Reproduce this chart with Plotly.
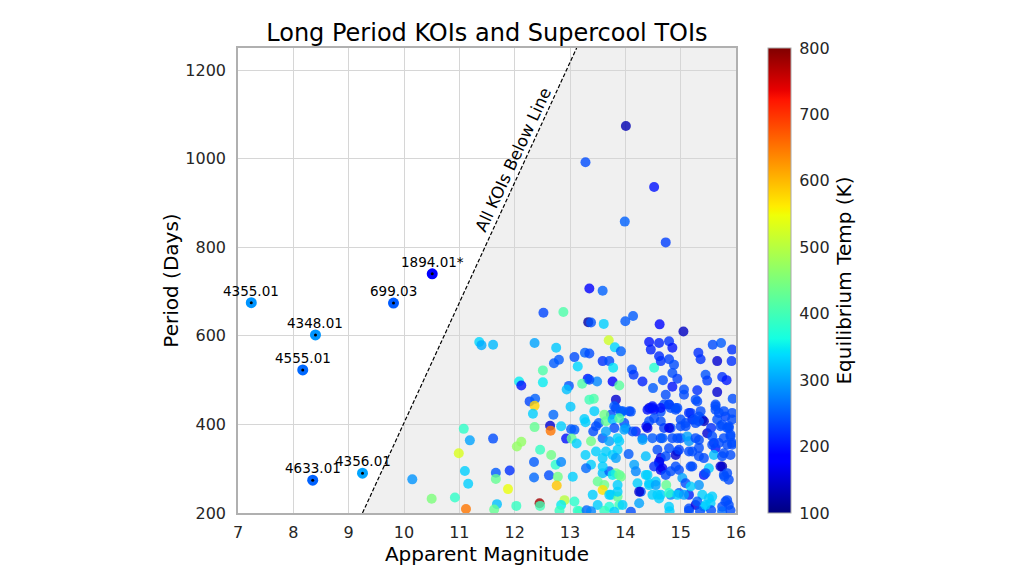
import numpy as np
import plotly.graph_objects as go

# ---------------- data ----------------
# Supercool TOIs: apparent magnitude, period (days), equilibrium temp (K)
toi_mag = [14.01, 13.28, 14.52, 13.99, 14.73, 13.35, 13.59,
           12.52, 12.88, 13.33, 13.38, 13.61, 14.00, 14.14, 14.62, 15.05, 11.36, 11.40, 11.61, 12.36,
           13.70, 13.81, 13.92, 12.75, 12.71, 12.80, 13.08, 13.27, 13.59, 13.71, 13.78, 12.51, 12.51,
           12.08, 12.12, 12.98, 12.94, 13.14, 13.32, 13.49, 13.22, 13.77, 13.89, 14.12, 14.15, 14.31,
           14.52, 14.85, 14.94, 14.50, 14.68, 14.85, 15.06, 15.30, 15.45, 15.48, 15.66, 15.75, 15.83,
           15.93, 15.92, 15.94, 15.58, 15.73, 15.32, 15.36, 15.66, 14.43, 14.61, 14.79, 14.85, 14.46,
           14.61, 14.64, 14.79, 14.88, 13.35, 13.35,
           12.27, 12.37, 12.36, 12.33, 12.70, 12.64, 12.65, 12.84, 12.36, 13.01, 13.02, 13.08, 12.93,
           13.03, 13.12, 13.28, 13.26, 13.43, 13.35, 13.83, 13.80, 13.92, 14.10, 13.74, 13.98, 14.38,
           14.43, 14.49, 14.64, 14.79, 14.91, 14.82, 15.00, 15.18, 15.21, 15.33, 15.39, 15.48, 15.63,
           15.69, 15.81, 15.87, 15.75, 15.90, 15.79, 14.73, 14.70, 15.27, 15.63, 13.42, 13.52,
           13.44, 13.62, 13.65, 13.83, 13.92, 14.07, 14.40, 14.52, 14.82, 14.94, 15.15, 15.36, 15.63,
           15.78, 15.93, 13.47, 13.77, 13.80, 14.01, 14.19, 14.43, 14.64, 14.70, 14.79, 15.00, 15.09,
           15.27, 15.42, 15.55, 15.66, 15.75, 15.87, 15.93, 13.38, 13.59, 13.71, 13.89, 14.13, 14.31,
           14.49, 14.64, 14.85, 15.00, 15.15, 15.33, 15.60, 15.63, 15.78, 15.93, 13.47, 13.65, 13.77,
           13.86, 14.06, 14.37, 14.58, 14.64, 14.79, 14.94, 14.91, 15.15, 15.33, 15.42, 15.60, 15.78,
           15.90, 13.38, 13.59, 13.71, 13.50, 13.62, 13.59, 13.83, 13.92, 13.86, 14.16, 14.19, 14.40,
           14.61, 14.67, 14.82, 14.97, 15.21, 15.42, 15.51, 15.78, 15.87, 13.41, 13.74, 13.86, 14.22,
           14.28, 14.43, 14.55, 14.74, 14.64, 14.82, 14.97, 15.15, 15.33, 15.57, 15.81, 13.50, 13.71,
           13.89, 14.25, 14.61, 14.79, 15.15, 15.27, 15.42, 15.54, 15.75, 15.87,
           11.08, 11.19, 11.61, 10.99, 11.10, 11.16, 10.92, 11.12, 11.66, 11.66, 11.91, 11.88, 12.04,
           12.12, 11.68, 11.63, 12.03, 12.46, 12.66, 12.35, 12.35, 12.62, 12.74, 12.78, 12.76, 12.84,
           12.90, 12.45, 12.46, 13.08, 12.84, 13.05, 13.28, 13.29, 13.17, 10.15, 10.50, 13.14, 12.81,
           13.30, 13.38, 13.62, 13.80, 14.10, 14.80, 15.15, 15.35, 15.55, 15.75, 15.90,
           14.49, 14.64, 14.79, 14.91, 15.06, 15.30, 15.24, 13.95, 13.89, 14.40, 14.52, 15.09, 15.33,
           15.72, 15.84, 13.65, 13.98, 14.31, 14.67, 14.94, 15.12, 15.27, 15.57, 15.69, 15.84, 15.90,
           13.86, 13.59, 13.83, 14.73, 14.61, 14.97, 15.21, 15.33, 15.57, 15.75, 15.93, 13.59, 13.77,
           13.89, 14.52, 14.64, 14.73, 14.91, 15.18, 15.45, 15.72, 15.84, 14.37, 14.43, 14.55, 15.03,
           15.09, 15.18, 13.71, 13.86, 14.25, 14.49, 14.58, 14.79, 14.94, 15.06, 15.39, 15.51, 15.30,
           15.45, 15.84, 13.95]
toi_period = [1074, 992, 936, 858, 811, 707, 702,
              652, 654, 631, 630, 627, 633, 645, 626, 610, 586, 579, 580, 584,
              590, 574, 565, 573, 538, 546, 552, 562, 543, 543, 528, 522, 495,
              497, 488, 487, 479, 531, 503, 497, 492, 497, 488, 524, 512, 497,
              528, 516, 503, 482, 500, 485, 479, 477, 512, 499, 473, 507, 500,
              569, 543, 458, 580, 584, 562, 547, 543, 586, 584, 588, 573, 569,
              554, 543, 547, 535, 560, 501,
              452, 458, 442, 424, 422, 397, 386, 396, 394, 440, 389, 388, 368,
              368, 357, 405, 412, 458, 456, 456, 441, 426, 429, 422, 403, 396,
              437, 437, 429, 445, 437, 392, 396, 426, 411, 418, 411, 380, 441,
              426, 418, 396, 305, 373, 282, 467, 445, 456, 445, 384, 403,
              430, 422, 407, 437, 430, 430, 433, 433, 437, 437, 426, 430, 433,
              430, 426, 396, 411, 392, 392, 384, 407, 407, 392, 392, 411, 403,
              403, 407, 392, 411, 399, 392, 411, 362, 369, 362, 362, 384, 369,
              369, 369, 369, 369, 362, 365, 358, 346, 369, 358, 339, 339, 331,
              343, 333, 328, 343, 324, 346, 339, 331, 339, 328, 324, 331, 335,
              331, 309, 290, 294, 271, 263, 252, 290, 282, 263, 309, 294, 286,
              312, 301, 294, 297, 305, 286, 301, 286, 275, 241, 241, 237, 267,
              248, 263, 271, 263, 241, 241, 245, 241, 263, 237, 226, 218, 214,
              218, 222, 233, 214, 210, 218, 214, 222, 214, 218,
              390, 364, 368, 335, 295, 266, 235, 209, 291, 277, 296, 254, 350,
              361, 220, 208, 216, 343, 331, 315, 280, 285, 309, 282, 262, 315,
              229, 222, 216, 226, 218, 282, 331, 301, 204, 276, 232, 205, 205,
              206, 204, 205, 203, 203, 204, 205, 204, 206, 204, 206,
              441, 437, 445, 433, 467, 452, 411, 430, 414, 392, 414, 396, 407,
              396, 392, 384, 388, 365, 369, 369, 373, 369, 373, 358, 354, 377,
              369, 324, 324, 328, 316, 343, 339, 347, 354, 328, 354, 305, 286,
              286, 305, 297, 286, 305, 305, 290, 305, 290, 286, 267, 263, 279,
              267, 260, 241, 248, 248, 241, 241, 245, 241, 241, 241, 233, 226,
              218, 229, 218]
toi_temp = [130, 240, 200, 255, 230, 185, 255,
            235, 410, 120, 245, 330, 250, 250, 190, 140, 335, 305, 315, 300,
            520, 335, 255, 325, 250, 250, 240, 255, 220, 240, 345, 410, 350,
            350, 200, 245, 320, 335, 200, 280, 410, 180, 420, 240, 225, 210,
            375, 240, 230, 250, 240, 200, 240, 220, 245, 230, 150, 220, 205,
            220, 220, 240, 240, 250, 220, 220, 150, 200, 210, 220, 200, 210,
            215, 220, 230, 240, 240, 240,
            235, 255, 580, 330, 260, 150, 650, 330, 430, 325, 250, 250, 200,
            430, 330, 330, 330, 410, 400, 150, 250, 330, 245, 240, 240, 200,
            150, 170, 240, 240, 240, 240, 240, 230, 170, 240, 240, 150, 240,
            240, 230, 240, 130, 240, 250, 240, 240, 240, 240, 240, 250,
            330, 440, 430, 240, 250, 240, 200, 200, 240, 240, 220, 240, 240,
            240, 240, 240, 320, 240, 280, 210, 240, 240, 230, 160, 240, 240,
            240, 140, 220, 240, 240, 240, 240, 440, 250, 300, 330, 240, 250,
            250, 240, 240, 240, 290, 240, 200, 200, 240, 240, 330, 330, 330,
            330, 250, 320, 240, 160, 240, 240, 150, 240, 240, 240, 320, 240,
            240, 330, 320, 250, 430, 440, 570, 440, 440, 330, 300, 280, 330,
            240, 170, 240, 240, 240, 200, 330, 240, 240, 330, 330, 430, 330,
            240, 330, 330, 430, 330, 280, 250, 210, 290, 330, 240, 330, 370,
            400, 300, 330, 330, 240, 160, 330, 330, 240, 240,
            385, 300, 240, 530, 330, 330, 385, 650, 250, 430, 220, 545, 470,
            470, 320, 430, 390, 390, 440, 250, 260, 240, 380, 440, 590, 280,
            500, 780, 400, 380, 350, 330, 330, 260, 430, 290, 450, 380, 390,
            260, 280, 390, 330, 240, 330, 240, 240, 240, 260, 240,
            200, 200, 230, 240, 240, 240, 240, 250, 420, 160, 240, 240, 240,
            240, 240, 300, 300, 300, 250, 240, 300, 240, 240, 240, 240, 240,
            330, 330, 300, 240, 170, 230, 240, 240, 240, 240, 240, 330, 350,
            430, 220, 170, 240, 240, 240, 240, 150, 240, 330, 330, 300, 300,
            240, 330, 330, 330, 150, 330, 330, 380, 330, 300, 330, 330, 250,
            330, 240, 330]

# Long period KOIs
koi_names = ["4355.01", "4348.01", "4555.01", "699.03", "1894.01*", "4633.01", "4356.01"]
koi_mag = [7.24, 8.40, 8.17, 9.81, 10.51, 8.35, 9.25]
koi_period = [675, 602, 523, 674, 740, 274, 290]
koi_temp = [290, 290, 260, 250, 180, 255, 300]

# boundary line: all KOIs below it
line_mag = [9.25, 13.12]
line_period = [200, 1250]

x_ticks = [7, 8, 9, 10, 11, 12, 13, 14, 15, 16]
y_ticks = [200, 400, 600, 800, 1000, 1200]
cbar_ticks = [100, 200, 300, 400, 500, 600, 700, 800]

# ---------------- matplotlib "jet" colorscale ----------------
_r = ([0, 0.35, 0.66, 0.89, 1], [0, 0, 1, 1, 0.5])
_g = ([0, 0.125, 0.375, 0.64, 0.91, 1], [0, 0, 1, 1, 0, 0])
_b = ([0, 0.11, 0.34, 0.65, 1], [0.5, 1, 1, 0, 0])
_stops = sorted(set(_r[0] + _g[0] + _b[0]))
jet = []
for s in _stops:
    r = np.interp(s, *_r); g = np.interp(s, *_g); b = np.interp(s, *_b)
    jet.append([s, f"rgb({int(round(r*255))},{int(round(g*255))},{int(round(b*255))})"])

FONT = "DejaVu Sans"
fig = go.Figure()

# shaded region right of the line
path = (f"M {line_mag[0]},{line_period[0]} L {line_mag[1]},{line_period[1]} "
        f"L {x_ticks[-1]},{line_period[1]} L {x_ticks[-1]},{line_period[0]} Z")
fig.add_shape(type="path", path=path, xref="x", yref="y",
              fillcolor="#f0f0f0", line=dict(width=0), layer="below")

fig.add_trace(go.Scatter(x=line_mag, y=line_period, mode="lines",
                         line=dict(color="black", width=1.2, dash="4px,2px"),
                         hoverinfo="skip", showlegend=False))

fig.add_trace(go.Scatter(x=toi_mag, y=toi_period, mode="markers",
                         marker=dict(size=10, color=toi_temp, coloraxis="coloraxis",
                                     opacity=0.8, line=dict(width=0)),
                         showlegend=False))

fig.add_trace(go.Scatter(x=koi_mag, y=koi_period, mode="markers",
                         marker=dict(size=11, color=koi_temp, coloraxis="coloraxis",
                                     line=dict(width=0)),
                         showlegend=False))
fig.add_trace(go.Scatter(x=koi_mag, y=koi_period, mode="markers",
                         marker=dict(size=3, color="black"),
                         showlegend=False, hoverinfo="skip"))

for n, mx, py in zip(koi_names, koi_mag, koi_period):
    fig.add_annotation(x=mx, y=py, text=n, showarrow=False, yshift=12,
                       font=dict(family=FONT, size=13.5, color="black"))

fig.add_annotation(x=11.98, y=998, text="All KOIs Below Line", showarrow=False,
                   textangle=-65, font=dict(family=FONT, size=16.5, color="black"))

fig.update_layout(
    width=1024, height=574,
    margin=dict(l=238, r=288, t=48, b=61),
    paper_bgcolor="white", plot_bgcolor="white",
    font=dict(family=FONT, color="#262626"),
    title=dict(text="Long Period KOIs and Supercool TOIs", x=0.4755, xanchor="center",
               y=0.944, yanchor="middle",
               font=dict(family=FONT, size=24, color="black")),
    coloraxis=dict(
        colorscale=jet, cmin=100, cmax=800,
        colorbar=dict(
            x=1.064, xanchor="left", xpad=0, y=0.5, yanchor="middle",
            len=1, lenmode="fraction", ypad=0, thickness=23,
            outlinecolor="#aaaaaa", outlinewidth=1,
            tickvals=cbar_ticks, ticks="outside", ticklen=5,
            tickcolor="rgba(0,0,0,0)",
            tickfont=dict(family=FONT, size=16, color="#262626"),
            title=dict(text="Equilibrium Temp (K)", side="right",
                       font=dict(family=FONT, size=20, color="black")),
        ),
    ),
)
fig.update_xaxes(range=[7, 16], tickvals=x_ticks, showgrid=True, gridcolor="#d6d6d6",
                 gridwidth=1, zeroline=False, showline=True, mirror=True,
                 linecolor="#b0b0b0", linewidth=1.5, ticks="outside", ticklen=4,
                 tickcolor="rgba(0,0,0,0)",
                 tickfont=dict(family=FONT, size=16, color="#262626"),
                 title=dict(text="Apparent Magnitude", standoff=5,
                            font=dict(family=FONT, size=20, color="black")))
fig.update_yaxes(range=[200, 1250], tickvals=y_ticks, showgrid=True, gridcolor="#d6d6d6",
                 gridwidth=1, zeroline=False, showline=True, mirror=True,
                 linecolor="#b0b0b0", linewidth=1.5, ticks="outside", ticklen=7,
                 tickcolor="rgba(0,0,0,0)",
                 tickfont=dict(family=FONT, size=16, color="#262626"),
                 title=dict(text="Period (Days)", standoff=1,
                            font=dict(family=FONT, size=20, color="black")))

fig.write_html("out.html")
